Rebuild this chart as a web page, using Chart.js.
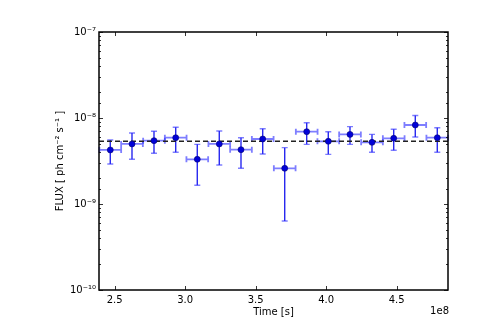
<!DOCTYPE html>
<html>
<head>
<meta charset="utf-8">
<script src="https://cdn.jsdelivr.net/npm/chart.js@4.4.1/dist/chart.umd.min.js"></script>
<style>
  html, body { margin: 0; padding: 0; background: #fff; }
  canvas { display: block; }
</style>
</head>
<body>
<canvas id="lcChart" width="498" height="323"></canvas>
<script>
// light curve bins (time in s, flux in ph cm^-2 s^-1)
const timeCenters = [2.469, 2.623, 2.779, 2.933, 3.086, 3.242, 3.396, 3.550,
                     3.706, 3.862, 4.015, 4.169, 4.325, 4.479, 4.632, 4.788].map(v => v * 1e8);
const timeHalfWidths = [0.077, 0.077, 0.077, 0.077, 0.077, 0.077, 0.077, 0.077,
                        0.077, 0.077, 0.077, 0.077, 0.077, 0.077, 0.077, 0.077].map(v => v * 1e8);
const fluxValues = [4.25, 4.99, 5.45, 5.90, 3.31, 4.99, 4.28, 5.70,
                    2.60, 6.93, 5.36, 6.45, 5.21, 5.81, 8.29, 5.90].map(v => v * 1e-9);
const fluxUpper = [5.55, 6.70, 7.00, 7.80, 4.94, 7.06, 5.90, 7.51,
                   4.52, 8.81, 6.93, 7.93, 6.45, 7.40, 10.7, 7.71].map(v => v * 1e-9);
const fluxLower = [2.92, 3.31, 3.89, 3.99, 1.65, 2.84, 2.60, 3.81,
                   0.634, 4.94, 3.78, 4.94, 3.99, 4.21, 6.01, 3.99].map(v => v * 1e-9);
const meanFlux = 5.36e-9;
const xTicks = [2.5, 3.0, 3.5, 4.0, 4.5];
const xRange = [2.389e8, 4.864e8];
const yRange = [1e-10, 1e-7];

Chart.defaults.font.family = "'DejaVu Sans', sans-serif";
Chart.defaults.font.size = 10;
Chart.defaults.color = "#000";

const SUP = { "-": "\u207b", "0": "\u2070", "1": "\u00b9", "2": "\u00b2", "3": "\u00b3",
  "4": "\u2074", "5": "\u2075", "6": "\u2076", "7": "\u2077", "8": "\u2078", "9": "\u2079" };
function isDecade(v) {
  const e = Math.log10(v);
  return Math.abs(e - Math.round(e)) < 1e-6;
}
function powLabel(v) {
  const e = String(Math.round(Math.log10(v)));
  return "10" + e.split("").map(c => SUP[c]).join("");
}

const errorBars = {
  id: "errorBars",
  beforeDatasetsDraw(chart) {
    const ctx = chart.ctx;
    const xs = chart.scales.x, ys = chart.scales.y;
    const cap = 3;
    ctx.save();
    ctx.lineCap = "butt";
    for (let i = 0; i < timeCenters.length; i++) {
      const px = xs.getPixelForValue(timeCenters[i]);
      const py = ys.getPixelForValue(fluxValues[i]);
      const x0 = xs.getPixelForValue(timeCenters[i] - timeHalfWidths[i]);
      const x1 = xs.getPixelForValue(timeCenters[i] + timeHalfWidths[i]);
      const yTop = ys.getPixelForValue(fluxUpper[i]);
      const yBot = ys.getPixelForValue(fluxLower[i]);

      // horizontal (time bin) bar
      ctx.strokeStyle = "rgba(40,40,255,0.6)";
      ctx.lineWidth = 1.8;
      ctx.beginPath();
      ctx.moveTo(x0, py); ctx.lineTo(x1, py);
      ctx.moveTo(x0, py - cap); ctx.lineTo(x0, py + cap);
      ctx.moveTo(x1, py - cap); ctx.lineTo(x1, py + cap);
      ctx.stroke();

      // vertical (flux) bar
      ctx.strokeStyle = "rgba(0,0,235,0.85)";
      ctx.lineWidth = 1.4;
      ctx.beginPath();
      ctx.moveTo(px, yTop); ctx.lineTo(px, yBot);
      ctx.stroke();
      ctx.strokeStyle = "rgba(40,40,255,0.6)";
      ctx.beginPath();
      ctx.moveTo(px - cap, yTop); ctx.lineTo(px + cap, yTop);
      ctx.moveTo(px - cap, yBot); ctx.lineTo(px + cap, yBot);
      ctx.stroke();
    }
    ctx.restore();
  }
};

const frameAndTicks = {
  id: "frameAndTicks",
  afterDraw(chart) {
    const ctx = chart.ctx;
    const a = chart.chartArea;
    const xs = chart.scales.x, ys = chart.scales.y;
    ctx.save();
    ctx.strokeStyle = "#000";
    ctx.lineWidth = 0.8;
    ctx.beginPath();
    xs.ticks.forEach(t => {
      const x = Math.round(xs.getPixelForValue(t.value)) + 0.5;
      ctx.moveTo(x, a.bottom); ctx.lineTo(x, a.bottom - 4);
      ctx.moveTo(x, a.top); ctx.lineTo(x, a.top + 4);
    });
    ys.ticks.forEach(t => {
      const y = Math.round(ys.getPixelForValue(t.value)) + 0.5;
      const len = isDecade(t.value) ? 4 : 2;
      ctx.moveTo(a.left, y); ctx.lineTo(a.left + len, y);
      ctx.moveTo(a.right, y); ctx.lineTo(a.right - len, y);
    });
    ctx.stroke();

    ctx.lineWidth = 1.5;
    ctx.strokeRect(a.left, a.top, a.right - a.left, a.bottom - a.top);

    ctx.fillStyle = "#000";
    ctx.font = "10px 'DejaVu Sans', sans-serif";
    ctx.textAlign = "right";
    ctx.textBaseline = "middle";
    ctx.fillText("1e8", a.right + 1, 311);
    ctx.restore();
  }
};

new Chart(document.getElementById("lcChart"), {
  type: "scatter",
  data: {
    datasets: [
      {
        label: "mean",
        type: "line",
        data: [{ x: xRange[0], y: meanFlux }, { x: xRange[1], y: meanFlux }],
        borderColor: "#222",
        borderWidth: 1.5,
        borderDash: [5, 3],
        pointRadius: 0,
        fill: false,
        order: 2,
      },
      {
        label: "flux",
        data: timeCenters.map((t, i) => ({ x: t, y: fluxValues[i] })),
        backgroundColor: "#0000d8",
        borderColor: "#000070",
        borderWidth: 0.6,
        pointRadius: 3,
        pointHoverRadius: 3,
        order: 1,
      },
    ],
  },
  options: {
    responsive: false,
    animation: false,
    devicePixelRatio: 1,
    layout: { padding: { left: 54, right: 50, top: 32, bottom: 5 } },
    plugins: {
      legend: { display: false },
      tooltip: { enabled: false },
    },
    scales: {
      x: {
        type: "linear",
        min: xRange[0],
        max: xRange[1],
        grid: { display: false, drawTicks: false },
        border: { display: false },
        afterBuildTicks: s => { s.ticks = xTicks.map(v => ({ value: v * 1e8 })); },
        ticks: {
          maxRotation: 0,
          autoSkip: false,
          padding: 4,
          callback: v => (v / 1e8).toFixed(1),
        },
        title: { display: true, text: "Time [s]", padding: 0 },
        afterFit: s => { s.height = 28; },
      },
      y: {
        type: "logarithmic",
        min: yRange[0],
        max: yRange[1],
        grid: { display: false, drawTicks: false },
        border: { display: false },
        ticks: {
          autoSkip: false,
          padding: 3,
          callback: v => (isDecade(v) ? powLabel(v) : ""),
        },
        title: { display: true, text: "FLUX [ ph cm\u207b\u00b2 s\u207b\u00b9 ]", padding: 0 },
        afterFit: s => { s.width = 45; },
      },
    },
  },
  plugins: [errorBars, frameAndTicks],
});
</script>
</body>
</html>
